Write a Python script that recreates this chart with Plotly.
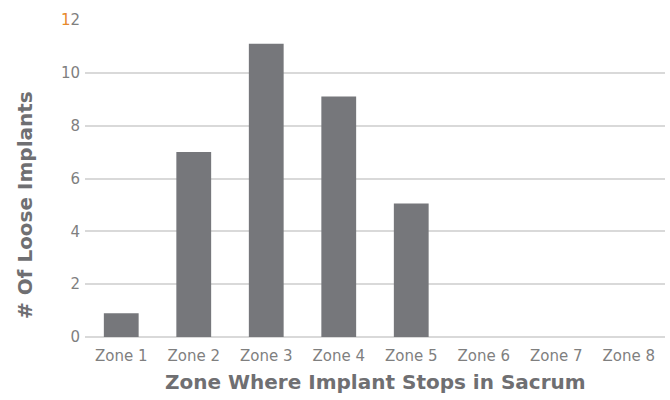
import plotly.graph_objects as go

categories = ["Zone 1", "Zone 2", "Zone 3", "Zone 4", "Zone 5", "Zone 6", "Zone 7", "Zone 8"]
loose_implants = [0.9, 7.0, 11.1, 9.1, 5.05, 0, 0, 0]
y_tick_vals = [0, 2, 4, 6, 8, 10, 12]
y_tick_text = ["0", "2", "4", "6", "8", "10", "<span style='color:#E7892B'>1</span>2"]

x_title = "Zone Where Implant Stops in Sacrum"
y_title = "# Of Loose Implants"

W, H = 670, 400
ml, mr, mt, mb = 85, 5, 20, 63

fig = go.Figure(go.Bar(
    x=categories, y=loose_implants,
    marker=dict(color="#76777B", line=dict(width=0)),
    width=0.48,
))

fig.update_layout(
    width=W, height=H,
    margin=dict(l=ml, r=mr, t=mt, b=mb),
    paper_bgcolor="white", plot_bgcolor="white",
    showlegend=False,
    font=dict(family="DejaVu Sans", color="#7F7F7F", size=15),
    xaxis=dict(
        showgrid=False, showline=False, zeroline=False,
        ticks="", ticklabelstandoff=8,
        tickfont=dict(size=15, color="#7F7F7F"),
    ),
    yaxis=dict(
        range=[0, 12], tickvals=y_tick_vals, ticktext=y_tick_text,
        showgrid=True, gridcolor="#D9D9D9", gridwidth=1.5,
        zeroline=True, zerolinecolor="#D9D9D9", zerolinewidth=1.5,
        showline=False, ticks="", ticklabelstandoff=4,
        tickfont=dict(size=15, color="#7F7F7F"),
    ),
    annotations=[
        dict(text=x_title, xref="paper", yref="paper",
             x=0.5, y=-(382 - (H - mb)) / (H - mt - mb),
             xanchor="center", yanchor="middle", showarrow=False,
             font=dict(family="DejaVu Sans", size=20, color="#6F6F72", weight="bold")),
        dict(text=y_title, xref="paper", yref="paper",
             x=(25 - ml) / (W - ml - mr), y=((H - mb) - 205) / (H - mt - mb),
             xanchor="center", yanchor="middle", textangle=-90, showarrow=False,
             font=dict(family="DejaVu Sans", size=20, color="#6F6F72", weight="bold")),
    ],
)

fig.write_html("out.html", config={"displayModeBar": False},
               post_script="document.body.style.margin='0';document.body.style.overflow='hidden';")
